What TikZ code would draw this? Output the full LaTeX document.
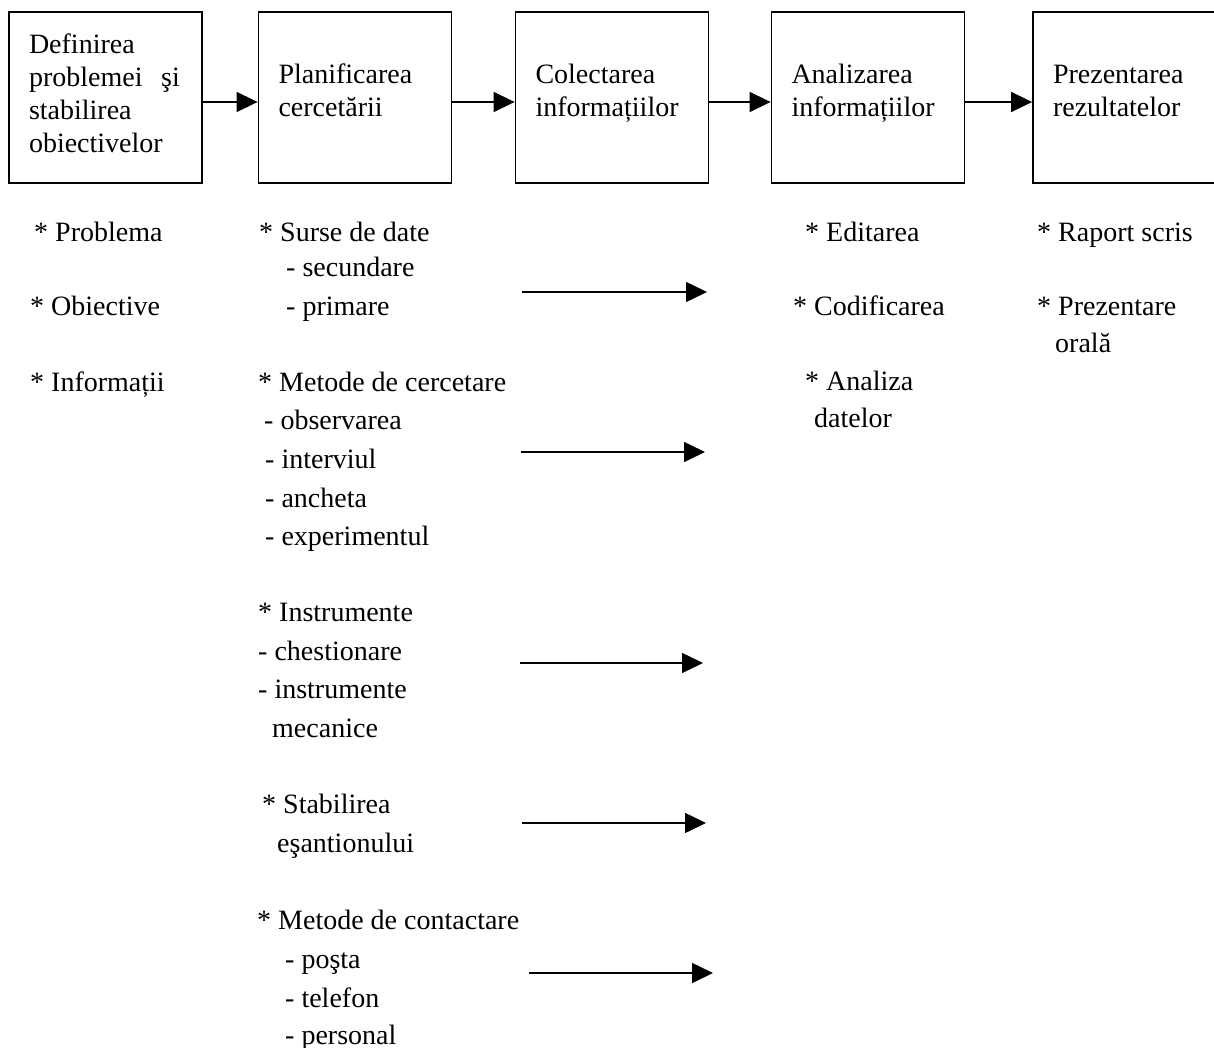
\documentclass[tikz,border=0pt]{standalone}
\usepackage{fontspec}
\setmainfont{Liberation Serif}
\usepackage{tikz}
\usetikzlibrary{arrows.meta}
\hyphenpenalty=10000
\exhyphenpenalty=10000

\begin{document}
\begin{tikzpicture}
[x=1pt,y=-1pt,
 boxdecorate/.style={shape=rectangle,draw,line width=1.8pt,minimum height=171pt,
   text width=153pt,inner xsep=20pt,inner ysep=0pt,align=left,
   font=\fontsize{28}{33}\selectfont},
 listdecorate/.style={anchor=base west,inner sep=0pt,font=\fontsize{28}{33}\selectfont},
 linedecorate/.style={-{Triangle[length=21pt,width=20pt]},line width=1.5pt}]
\useasboundingbox (0,0) rectangle (1214,1048);
%% boxes of the stages
\foreach \nodename/\x/\dep/\txt in {def/105.5/107/Definirea\\problemei~~şi\\stabilirea\\obiectivelor,
  plan/355/47/Planificarea\\cercetării, col/612/47/Colectarea\\informațiilor,
  ana/868/47/Analizarea\\informațiilor, pre/1129.5/47/Prezentarea\\rezultatelor}
{
  \node (\nodename) at (\x,97.5) [boxdecorate,text depth=\dep pt] {\txt};
}
%% arrows between the stages
\foreach \startnode/\endnode in {def/plan, plan/col, col/ana, ana/pre}
{
  \draw[linedecorate] ([yshift=-4.5pt]\startnode.east) -- ([yshift=-4.5pt]\endnode.west);
}
%% lists under the boxes
\foreach \nodename/\x/\y/\txt in {prob/34/232/* Problema, obj/30/305/* Obiective,
  info/30/381/* Informații,
  surse/259/232/* Surse de date, secund/286/267/- secundare, prim/286/305/- primare,
  metode/258/381/* Metode de cercetare, obs/264/419/- observarea,
  interv/265/458/- interviul, anch/265/497/- ancheta, exper/265/535/- experimentul,
  instr/258/611/* Instrumente, chest/258/650/- chestionare,
  instrm/258/688/- instrumente, mecan/272/727/mecanice,
  stab/262/803/* Stabilirea, esant/277/842/eşantionului,
  contact/257/919/* Metode de contactare, posta/285/958/- poşta,
  tel/285/997/- telefon, pers/285/1034/- personal,
  edit/805/232/* Editarea, cod/793/305/* Codificarea, anal/805/380/* Analiza,
  datel/814/417/datelor,
  raport/1037/232/* Raport scris, prezo/1037/305/* Prezentare, orala/1055/342/orală}
{
  \node[listdecorate] (\nodename) at (\x,\y+10) {\txt};
}
%% free arrows towards the collecting stage
\foreach \i/\xa/\xb/\y in {1/522/707/292, 2/521/705/452, 3/520/703/663,
  4/522/706/823, 5/529/713/973}
{
  \coordinate (from\i) at (\xa,\y);
  \coordinate (to\i) at (\xb,\y);
  \draw[linedecorate] (from\i) -- (to\i);
}
\end{tikzpicture}
\end{document}
